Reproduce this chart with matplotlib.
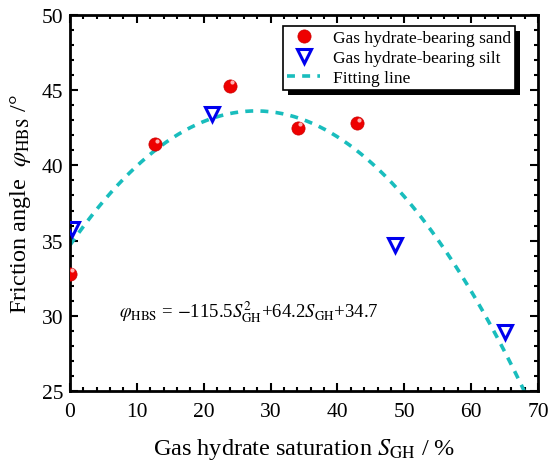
import numpy as np
import matplotlib
matplotlib.use("Agg")
import matplotlib.pyplot as plt
from matplotlib.patches import Rectangle
from matplotlib.transforms import IdentityTransform

plt.rcParams['font.family'] = ['Liberation Serif', 'DejaVu Serif']
plt.rcParams['mathtext.fontset'] = 'stix'

# Data
sand_x = [0.0, 12.7, 23.9, 34.1, 42.9]
sand_y = [32.8, 41.4, 45.3, 42.5, 42.8]
silt_x = [0.3, 21.2, 48.6, 65.1]
silt_y = [35.8, 43.4, 34.7, 28.9]
fit_coef = [-115.5, 64.2, 34.7]   # a*S^2 + b*S + c, S as fraction
fit_range = [0.0, 68.2]

x_ticks = [0, 10, 20, 30, 40, 50, 60, 70]
y_ticks = [25, 30, 35, 40, 45, 50]

fig = plt.figure(figsize=(5.49, 4.64), dpi=100)
ax = fig.add_axes([70/549, 1-392/464, 468/549, 376/464])

S = np.linspace(fit_range[0], fit_range[1], 300)
Sf = S / 100
phi = fit_coef[0]*Sf**2 + fit_coef[1]*Sf + fit_coef[2]
ax.plot(S, phi, ls=(0, (2.2, 2.0)), color='#19BDBD', lw=2.6, label='Fitting line', zorder=2)

ax.plot(sand_x, sand_y, 'o', color='#EE0000', ms=9.5, mec='#CC0000', mew=0.5,
        label='Gas hydrate-bearing sand', zorder=3)
# highlights
ax.plot(np.array(sand_x) + 0.3, np.array(sand_y) + 0.25, 'o', color='#FFB0B0', ms=3, mew=0, zorder=4)
ax.plot(silt_x, silt_y, 'v', mfc='none', mec='#0000EE', ms=10, mew=2.2,
        label='Gas hydrate-bearing silt', zorder=3)

ax.set_xlim(0, 70)
ax.set_ylim(25, 50)
ax.set_xticks(x_ticks)
ax.set_yticks(y_ticks)
ax.set_xticks(np.arange(0, 71, 2), minor=True)
ax.set_yticks(np.arange(25, 51, 1), minor=True)
ax.tick_params(which='both', direction='in', top=True, right=True, labelsize=15.5, width=1.5)
ax.tick_params(which='major', length=6)
ax.tick_params(axis='x', which='major', pad=8)
ax.tick_params(axis='y', which='major', pad=5)
ax.tick_params(which='minor', length=3)
for sp in ax.spines.values():
    sp.set_linewidth(2)

ax.set_xlabel(r'Gas hydrate saturation $S_{\mathrm{GH}}$ / %', fontsize=17.5, labelpad=11)
ax.set_ylabel(r'Friction angle  $\varphi_{\mathrm{HBS}}$ /°', fontsize=17.5, labelpad=6)

ax.text(7.3, 30.3,
        r'$\varphi_{\mathrm{HBS}}$ = $-$115.5$S_{\mathrm{GH}}^{2}$+64.2$S_{\mathrm{GH}}$+34.7',
        fontsize=13.5, va='center', ha='left')

handles, labels = ax.get_legend_handles_labels()
idx = {lab: i for i, lab in enumerate(labels)}
order = ['Gas hydrate-bearing sand', 'Gas hydrate-bearing silt', 'Fitting line']
h = [handles[idx[k]] for k in order]
leg = ax.legend(h, order, loc='upper right', bbox_to_anchor=(0.951, 0.972), borderaxespad=0,
                fontsize=12.5, frameon=True, fancybox=False, edgecolor='black', framealpha=1,
                handlelength=1.9, handletextpad=0.7, labelspacing=0.22,
                borderpad=0.25)
leg.get_frame().set_linewidth(1.2)
leg.set_zorder(6)

fig.canvas.draw()
bb = leg.get_frame().get_window_extent()
shadow = Rectangle((bb.x0 + 5, bb.y0 - 5), bb.width, bb.height, transform=IdentityTransform(),
                   facecolor='black', edgecolor='none', zorder=5.5, clip_on=False)
ax.add_artist(shadow)

fig.savefig('out.png', dpi=100)
